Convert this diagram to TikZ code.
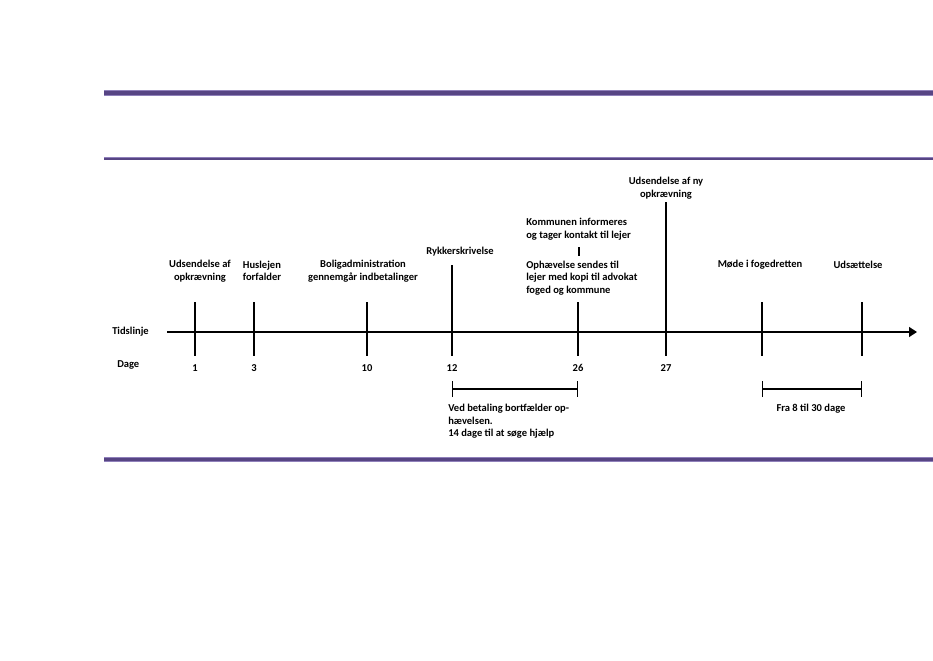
\documentclass[tikz,border=0pt]{standalone}
\usepackage{fontspec}
\setmainfont{Carlito}
\usetikzlibrary{arrows.meta, positioning}
\definecolor{Band}{HTML}{574584}
\definecolor{BandLight}{HTML}{8F80BA}

\begin{document}
\begin{tikzpicture}[x=0.75pt, y=-0.75pt,
  lbl/.style={font=\bfseries\fontsize{7.9}{9.4}\selectfont, inner sep=0pt, align=center},
  lblw/.style={lbl, align=left, anchor=west},
  mark line/.style={line width=0.9pt},
  span/.style={line width=0.9pt, {Bar[width=12pt]}-{Bar[width=12pt]}}]
  \useasboundingbox (0,0) rectangle (933,661);

  % purple bands
  \fill[BandLight] (104,89.5) rectangle (933,95.5);
  \fill[Band] (104,90.5) rectangle (933,94.5);
  \fill[BandLight] (104,156.5) rectangle (933,160);
  \fill[Band] (104,157.5) rectangle (933,159.5);
  \fill[BandLight] (104,456.5) rectangle (933,461.5);
  \fill[Band] (104,457.5) rectangle (933,460.5);

  % timeline
  \coordinate (axs) at (167,332);
  \coordinate (axe) at (917,332);
  \draw[line width=1pt, -{Triangle[length=6pt, width=7.5pt]}] (axs) -- (axe);
  \node[lblw] (tidslinje) at (112,332) {Tidslinje};
  \node[lblw] (dage) at (117,365) {Dage};

  % day marks
  \foreach \x/\top/\d in {195/302/1, 254/302/3, 367/302/10, 452/265/12,
                          578/302/26, 666/202/27, 762/302/, 862/302/} {
    \draw[mark line] (\x,\top) -- (\x,356);
    \node[lbl] at (\x,368) {\d};
  }
  \draw[mark line] (579,247) -- (579,256);

  % events
  \node[lbl] (udsend) at (200,271) {Udsendelse af\\opkrævning};
  \node[lbl, align=left] (husleje) at (262,271) {Huslejen\\forfalder};
  \node[lbl] (bolig) at (363,271) {Boligadministration\\gennemgår indbetalinger};
  \node[lbl] (rykker) at (460,252) {Rykkerskrivelse};
  \node[lbl] (nyopk) at (666,188) {Udsendelse af ny\\opkrævning};
  \node[lblw] (kommune) at (526,229) {Kommunen informeres\\og tager kontakt til lejer};
  \node[lblw] (ophaev) at (526,278) {Ophævelse sendes til\\lejer med kopi til advokat\\foged og kommune};
  \node[lbl] (moede) at (760,265) {Møde i fogedretten};
  \node[lbl] (udsaet) at (858,265) {Udsættelse};

  % periods
  \coordinate (p1a) at (452,389);
  \coordinate (p1b) at (578,389);
  \coordinate (p2a) at (762,389);
  \coordinate (p2b) at (862,389);
  \draw[span] (p1a) -- (p1b);
  \draw[span] (p2a) -- (p2b);
  \node[lbl, align=left, anchor=north west] (betaling) at (448,404)
    {Ved betaling bortfælder op-\\hævelsen.\\14 dage til at søge hjælp};
  \node[lbl] (fra) at (811,409) {Fra 8 til 30 dage};
\end{tikzpicture}
\end{document}
